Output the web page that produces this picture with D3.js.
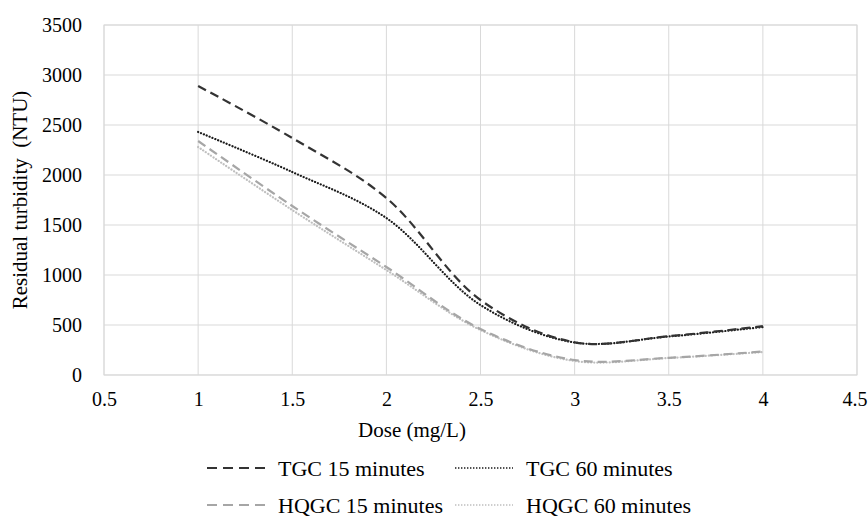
<!DOCTYPE html>
<html>
<head>
<meta charset="utf-8">
<script src="https://cdn.jsdelivr.net/npm/d3@7/dist/d3.min.js"></script>
<style>
html,body{margin:0;padding:0;background:#fff;}
</style>
</head>
<body>
<svg id="chart" width="868" height="518"></svg>
<script>
const doses = [1, 1.5, 2, 2.5, 3, 3.5, 4];
const tgc15 = [2890, 2370, 1770, 750, 327, 388, 488];
const tgc60 = [2430, 2030, 1570, 700, 325, 385, 480];
const hqgc15 = [2340, 1690, 1080, 460, 150, 172, 235];
const hqgc60 = [2280, 1650, 1050, 450, 140, 170, 230];
const seriesNames = ["TGC 15 minutes", "TGC 60 minutes", "HQGC 15 minutes", "HQGC 60 minutes"];
const xTicks = [0.5, 1, 1.5, 2, 2.5, 3, 3.5, 4, 4.5];
const yTicks = [0, 500, 1000, 1500, 2000, 2500, 3000, 3500];

const FONT = '"Liberation Serif", "Times New Roman", serif';

const styles = [
  {color:"#333333", dash:"9,5", width:2.2, cap:"butt"},
  {color:"#1a1a1a", dash:"0.1,3", width:2.2, cap:"round"},
  {color:"#a6a6a6", dash:"9,5", width:2.2, cap:"butt"},
  {color:"#bfbfbf", dash:"0.1,3", width:2.2, cap:"round"}
];
const seriesData = [tgc15, tgc60, hqgc15, hqgc60];

const svg = d3.select("#chart");
const L = 104, R = 857, T = 25, B = 375;
const x = d3.scaleLinear().domain([0.5, 4.5]).range([L, R]);
const y = d3.scaleLinear().domain([0, 3500]).range([B, T]);

svg.append("g").selectAll("line").data(yTicks).join("line")
  .attr("x1", L).attr("x2", R).attr("y1", d => y(d)).attr("y2", d => y(d))
  .attr("stroke", "#d9d9d9").attr("stroke-width", 1);
svg.append("g").selectAll("line").data(xTicks).join("line")
  .attr("y1", T).attr("y2", B).attr("x1", d => x(d)).attr("x2", d => x(d))
  .attr("stroke", "#d9d9d9").attr("stroke-width", 1);
svg.append("rect").attr("x", L).attr("y", T).attr("width", R - L).attr("height", B - T)
  .attr("fill", "none").attr("stroke", "#d9d9d9").attr("stroke-width", 1);

const yAxis = svg.append("g").attr("transform", `translate(${L},0)`)
  .call(d3.axisLeft(y).tickValues(yTicks).tickSize(0).tickPadding(22).tickFormat(d3.format("d")));
yAxis.attr("font-family", FONT).attr("font-size", 20);
yAxis.select(".domain").remove();

const xAxis = svg.append("g").attr("transform", `translate(0,${B})`)
  .call(d3.axisBottom(x).tickValues(xTicks).tickSize(0).tickPadding(17).tickFormat(d => String(d)));
xAxis.attr("font-family", FONT).attr("font-size", 20);
xAxis.select(".domain").remove();
// keep the last label inside the picture
xAxis.selectAll(".tick text").filter(d => d === 4.5).attr("text-anchor", "end").attr("dx", 10);

svg.append("text").attr("x", 412).attr("y", 437).attr("text-anchor", "middle")
  .attr("font-family", FONT).attr("font-size", 21).text("Dose (mg/L)");
svg.append("text").attr("transform", `translate(27,${(T + B) / 2}) rotate(-90)`)
  .attr("text-anchor", "middle").attr("font-family", FONT).attr("font-size", 21)
  .attr("xml:space", "preserve").text("Residual turbidity  (NTU)");

const line = d3.line().x((d, i) => x(doses[i])).y(d => y(d)).curve(d3.curveCatmullRom.alpha(0.5));
[3, 2, 1, 0].forEach(k => {
  svg.append("path").attr("d", line(seriesData[k]))
    .attr("fill", "none").attr("stroke", styles[k].color)
    .attr("stroke-width", styles[k].width).attr("stroke-dasharray", styles[k].dash)
    .attr("stroke-linecap", styles[k].cap);
});

const legendPos = [
  {x: 207, y: 468}, {x: 455, y: 468}, {x: 207, y: 505}, {x: 455, y: 505}
];
seriesNames.forEach((name, k) => {
  const p = legendPos[k];
  const dotted = k % 2 === 1;
  svg.append("line").attr("x1", p.x).attr("x2", p.x + 58).attr("y1", p.y).attr("y2", p.y)
    .attr("stroke", styles[k].color).attr("stroke-width", dotted ? 1.4 : 2.2)
    .attr("stroke-dasharray", dotted ? "1.4,1.6" : "10,6").attr("stroke-linecap", "butt");
  svg.append("text").attr("x", p.x + 71).attr("y", p.y).attr("dy", "0.35em")
    .attr("font-family", FONT).attr("font-size", 22).text(name);
});
</script>
</body>
</html>
